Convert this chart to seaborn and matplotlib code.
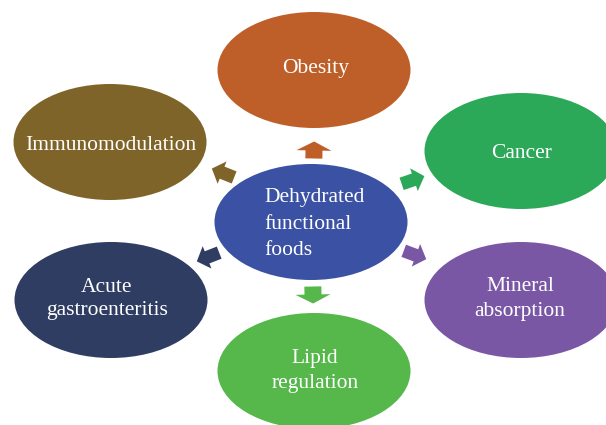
import numpy as np
import matplotlib
matplotlib.use("Agg")
import matplotlib.pyplot as plt
from matplotlib.patches import Ellipse, Polygon
import seaborn as sns

# ---- content ----
center_label = "Dehydrated\nfunctional\nfoods"
outer_labels = ["Obesity", "Cancer", "Mineral\nabsorption",
                "Lipid\nregulation", "Acute\ngastroenteritis", "Immunomodulation"]
outer_colors = ["#BE5F2A", "#2BA858", "#7A57A4", "#56B74B", "#2F3D63", "#7F6429"]
center_color = "#3B51A3"

# ---- layout (pixel space) ----
center_xy = (311, 222)
outer_xy = [(314, 70), (521, 151), (521, 300), (314, 371), (111, 300), (110, 142)]
ell_w, ell_h = 193, 116
text_xy = [(316, 68), (522, 153), (520, 299), (315, 371), (107, 299), (111, 145)]
line_sp = [1.2, 1.2, 1.42, 1.42, 1.3, 1.2]
arrow_xy = [(314, 150), (413, 180), (415, 255), (313, 295), (208, 257), (223, 173)]

sns.set_theme(style="white")
plt.rcParams['font.family'] = ['Liberation Serif', 'DejaVu Serif']

fig = plt.figure(figsize=(6.06, 4.25), dpi=100)
ax = fig.add_axes([0, 0, 1, 1])
ax.set_xlim(0, 606)
ax.set_ylim(425, 0)
ax.axis("off")


def block_arrow(cx, cy, angle, length, head_w, shaft_w, head_len, color):
    L = length
    pts = np.array([
        [-L / 2, -shaft_w / 2],
        [L / 2 - head_len, -shaft_w / 2],
        [L / 2 - head_len, -head_w / 2],
        [L / 2, 0],
        [L / 2 - head_len, head_w / 2],
        [L / 2 - head_len, shaft_w / 2],
        [-L / 2, shaft_w / 2],
    ])
    c, s = np.cos(angle), np.sin(angle)
    R = np.array([[c, -s], [s, c]])
    pts = pts @ R.T + np.array([cx, cy])
    ax.add_patch(Polygon(pts, closed=True, facecolor=color, edgecolor="none", zorder=2))


for (x, y), col in zip(outer_xy, outer_colors):
    ax.add_patch(Ellipse((x, y), ell_w, ell_h, facecolor=col, edgecolor="none", zorder=1))

ax.add_patch(Ellipse(center_xy, ell_w, ell_h, facecolor=center_color, edgecolor="none", zorder=1))

for i, ((ax_, ay_), col) in enumerate(zip(arrow_xy, outer_colors)):
    tx, ty = outer_xy[i]
    ang = np.arctan2(ty - center_xy[1], tx - center_xy[0])
    if i in (0, 3):
        block_arrow(ax_, ay_, ang, 17, 35, 17, 9, col)
    else:
        block_arrow(ax_, ay_, ang, 24, 24, 13, 11, col)

for (x, y), lab, ls in zip(text_xy, outer_labels, line_sp):
    ax.text(x, y, lab, ha="center", va="center", color="white",
            fontsize=15.5, linespacing=ls, multialignment="center", zorder=3)

ax.text(264, 224, center_label, ha="left", va="center", color="white",
        fontsize=15.5, linespacing=1.55, multialignment="left", zorder=3)

fig.savefig("out.png", dpi=100)
